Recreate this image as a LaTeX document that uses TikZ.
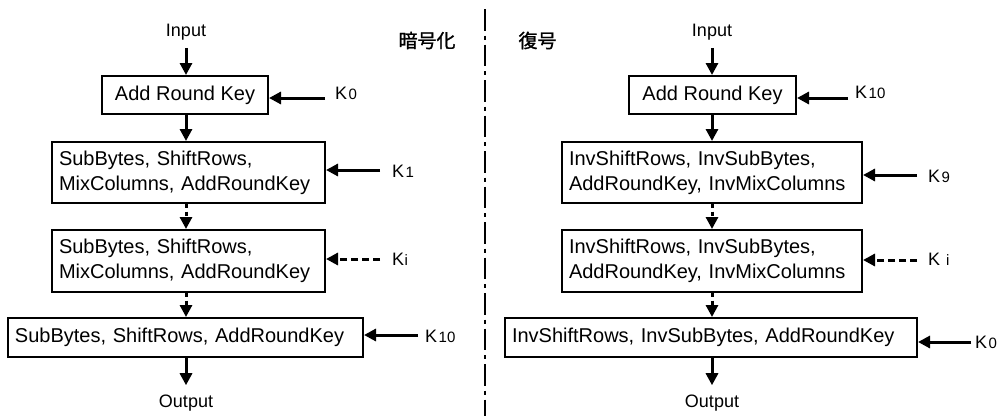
\documentclass[tikz,border=0pt]{standalone}
\usepackage{fontspec}
\setmainfont{Liberation Sans}
\newfontfamily\jpfont{Noto Sans CJK JP}[FakeBold=1.2]
\usetikzlibrary{arrows.meta}

% key label: "K" followed by a smaller round index
\newcommand\kidx[2][1.5pt]{K\hspace{#1}{\fontsize{15}{15}\selectfont #2}}

\tikzset{
  stage/.style={draw, line width=2pt, inner sep=0pt,
                font=\fontsize{20}{25}\selectfont},
  stagel/.style={stage, inner xsep=7pt, align=left},
  io/.style={inner sep=0pt, anchor=base, font=\fontsize{18}{18}\selectfont},
  keylbl/.style={inner sep=0pt, anchor=base west, font=\fontsize{18}{18}\selectfont},
  jp/.style={inner sep=0pt, font=\jpfont\fontsize{19}{19}\selectfont},
  arr/.style={line width=3pt, -{Triangle[length=12pt,width=12pt]}},
  keyarr/.style={arr},
  dkeyarr/.style={arr, dash pattern=on 7pt off 4pt},
  dflow/.style={arr, dash pattern=on 4pt off 3.5pt},
  divider/.style={line width=2pt, dash pattern=on 21.5pt off 5pt on 4pt off 5pt}
}

\begin{document}
\begin{tikzpicture}[x=1pt,y=-1pt]
\useasboundingbox (0,0) rectangle (1005,416);

% ---------- encryption ----------
\coordinate (axL) at (186,0);
\node[io] (inL) at (186,36) {Input};
\node[stage, minimum width=166pt, minimum height=38pt] (L1) at (185,95) {Add Round Key};
\node[stagel, text width=259pt, minimum height=61pt] (L2) at (188.5,172.5)
  {SubBytes, ShiftRows,\\MixColumns, AddRoundKey};
\node[stagel, text width=259pt, minimum height=62pt] (L3) at (188.5,261)
  {SubBytes, ShiftRows,\\MixColumns, AddRoundKey};
\node[stagel, text width=341pt, minimum height=39pt] (L4) at (185.5,337.5)
  {SubBytes, ShiftRows, AddRoundKey};
\node[io] (outL) at (186,407) {Output};

\draw[arr]   ([yshift=-8pt]inL.south) -- (axL |- L1.north);
\draw[arr]   (axL |- L1.south) -- (axL |- L2.north);
\draw[dflow] (axL |- L2.south) -- (axL |- L3.north);
\draw[dflow] (axL |- L3.south) -- (axL |- L4.north);
\draw[arr]   (axL |- L4.south) -- ([yshift=9pt]outL.north);

\coordinate (kL0) at (325,98);
\coordinate (kL1) at (380,170);
\coordinate (kLi) at (380,259);
\coordinate (kLn) at (418,335);
\draw[keyarr]  (kL0) -- (kL0 -| L1.east);
\draw[keyarr]  (kL1) -- (kL1 -| L2.east);
\draw[dkeyarr] (kLi) -- (kLi -| L3.east);
\draw[keyarr]  (kLn) -- (kLn -| L4.east);
\node[keylbl] (lk0) at (335,99)  {\kidx{0}};
\node[keylbl] (lk1) at (392,177) {\kidx{1}};
\node[keylbl] (lki) at (392,265) {\kidx[0.5pt]{i}};
\node[keylbl] (lkn) at (425,342) {\kidx{10}};

\node[jp] (enc) at (427,40.5) {暗号化};

% ---------- separator ----------
\draw[divider] (485,9) -- (485,416);

% ---------- decryption ----------
\node[jp] (dec) at (537.5,40.5) {復号};

\coordinate (axR) at (712,0);
\node[io] (inR) at (712,36) {Input};
\node[stage, minimum width=167pt, minimum height=38pt] (R1) at (712.5,95) {Add Round Key};
\node[stagel, text width=286pt, minimum height=61pt] (R2) at (712,172.5)
  {InvShiftRows, InvSubBytes,\\AddRoundKey, InvMixColumns};
\node[stagel, text width=286pt, minimum height=62pt] (R3) at (712,261)
  {InvShiftRows, InvSubBytes,\\AddRoundKey, InvMixColumns};
\node[stagel, text width=398pt, minimum height=39pt] (R4) at (711,337.5)
  {InvShiftRows, InvSubBytes, AddRoundKey};
\node[io] (outR) at (712,407) {Output};

\draw[arr]   ([yshift=-8pt]inR.south) -- (axR |- R1.north);
\draw[arr]   (axR |- R1.south) -- (axR |- R2.north);
\draw[dflow] (axR |- R2.south) -- (axR |- R3.north);
\draw[dflow] (axR |- R3.south) -- (axR |- R4.north);
\draw[arr]   (axR |- R4.south) -- ([yshift=9pt]outR.north);

\coordinate (kRn) at (848,98);
\coordinate (kR9) at (917,175);
\coordinate (kRi) at (917,260);
\coordinate (kR0) at (971,342);
\draw[keyarr]  (kRn) -- (kRn -| R1.east);
\draw[keyarr]  (kR9) -- (kR9 -| R2.east);
\draw[dkeyarr] (kRi) -- (kRi -| R3.east);
\draw[keyarr]  (kR0) -- (kR0 -| R4.east);
\node[keylbl] (rkn) at (855,98)  {\kidx{10}};
\node[keylbl] (rk9) at (928,182) {\kidx{9}};
\node[keylbl] (rki) at (928,265) {\kidx[6pt]{i}};
\node[keylbl] (rk0) at (975,348) {\kidx{0}};
\end{tikzpicture}
\end{document}
